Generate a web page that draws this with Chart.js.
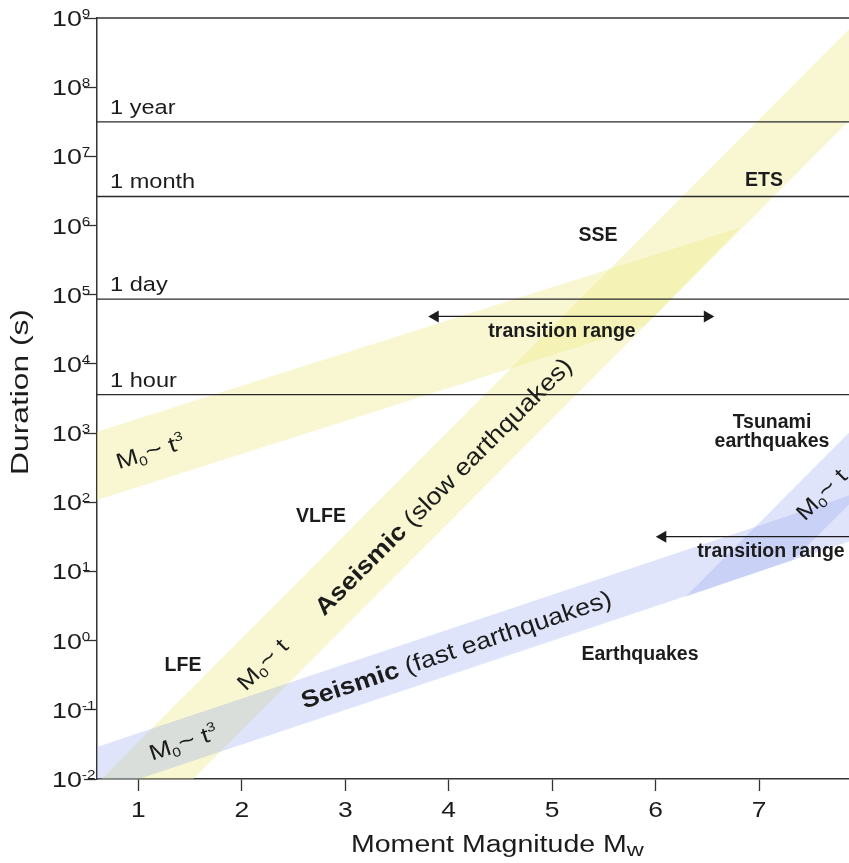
<!DOCTYPE html>
<html>
<head>
<meta charset="utf-8">
<script src="https://cdn.jsdelivr.net/npm/chart.js@4.4.1/dist/chart.umd.min.js"></script>
<style>
  html, body { margin:0; padding:0; background:#fff; }
  #wrap { width:849px; height:863px; }
</style>
</head>
<body>
<div id="wrap"><canvas id="scaling" width="849" height="863"></canvas></div>
<script>
// ── Duration vs moment magnitude (slow / fast earthquake scaling) ──
const FONT = '"Liberation Sans", Arial, Helvetica, sans-serif';
const INK = '#1c1c1c';

// axis ticks
const magTicks = [1, 2, 3, 4, 5, 6, 7];
const durExponents = [-2, -1, 0, 1, 2, 3, 4, 5, 6, 7, 8, 9];

// reference durations (s)
const refLabels = ['1 year', '1 month', '1 day', '1 hour'];
const refSeconds = [31557600, 2629800, 86400, 3600];

// bands as polygon corners: moment magnitude / duration (s)
const slowLinearMw  = [0.5, 8.0, 8.0, 1.2];
const slowLinearDur = [0.0061, 1.08e9, 5.1e7, 0.0032];
const slowCubicMw   = [0.5, 6.82, 5.90, 0.5];
const slowCubicDur  = [935, 9.4e5, 3.6e4, 97];
const fastCubicMw   = [0.5, 8.0, 8.0, 0.5];
const fastCubicDur  = [0.0258, 145, 31.5, 0.0056];
const fastLinearMw  = [6.29, 8.0, 8.0, 7.33];
const fastLinearDur = [4.3, 1585, 145, 14.8];

// "transition range" arrows
const slowArrowMw  = [3.87, 6.50];
const slowArrowDur = [48500, 48500];
const fastArrowMw  = [6.07, 8.0];
const fastArrowDur = [31.8, 31.8];

const YELLOW = 'rgba(238,236,140,0.40)';
const BLUE = 'rgba(150,165,240,0.30)';

const pts = (xs, ys) => xs.map((x, i) => ({ x: x, y: ys[i] }));

function band(xs, ys, color) {
  return { data: pts(xs, ys), showLine: true, fill: 'shape', backgroundColor: color,
           borderColor: 'transparent', borderWidth: 0, pointRadius: 0 };
}

function arrow(xs, ys, radii, rots) {
  return { data: pts(xs, ys), showLine: true, fill: false, borderColor: INK, borderWidth: 1.3,
           pointStyle: 'triangle', pointRadius: radii, pointRotation: rots,
           pointBackgroundColor: INK, pointBorderWidth: 0, pointBorderColor: INK };
}

const refLines = refSeconds.map(s => ({
  data: [{ x: 0.6, y: s }, { x: 7.87, y: s }], showLine: true, fill: false,
  borderColor: '#2a2a2a', borderWidth: 1.3, pointRadius: 0
}));

// draw a run of text pieces (for sub/superscripts), optionally rotated + stretched
function drawRuns(ctx, x, y, angle, sx, parts, align) {
  ctx.save();
  ctx.translate(x, y);
  ctx.rotate(angle * Math.PI / 180);
  ctx.scale(sx, 1);
  ctx.textBaseline = 'alphabetic';
  ctx.textAlign = 'left';
  let total = 0;
  parts.forEach(p => { ctx.font = p.font; p.w = ctx.measureText(p.t).width; total += p.w; });
  let cx = align === 'center' ? -total / 2 : 0;
  parts.forEach(p => { ctx.font = p.font; ctx.fillText(p.t, cx, p.dy || 0); cx += p.w; });
  ctx.restore();
}

const reg = s => s + 'px ' + FONT;
const bold = s => 'bold ' + s + 'px ' + FONT;

function mLabel(ctx, x, y, angle, power) {
  const parts = [
    { t: 'M', font: reg(22), dy: 8 },
    { t: '0', font: reg(13), dy: 12 },
    { t: '~', font: reg(24), dy: 8 },
    { t: ' t', font: reg(22), dy: 8 }
  ];
  if (power) parts.push({ t: power, font: reg(13), dy: -1 });
  drawRuns(ctx, x, y, angle, 1.2, parts, 'center');
}

const textPlugin = {
  id: 'annotText',
  afterDatasetsDraw(chart) {
    const { ctx, chartArea: a } = chart;
    ctx.save();
    ctx.strokeStyle = '#333';
    ctx.lineWidth = 1.5;
    ctx.beginPath();
    ctx.moveTo(a.left, a.top);
    ctx.lineTo(a.right, a.top);
    ctx.stroke();
    ctx.restore();
  },
  afterDraw(chart) {
    const { ctx, scales: { x, y } } = chart;
    ctx.save();
    ctx.fillStyle = INK;

    // y tick labels 10^k
    durExponents.forEach(k => {
      const py = y.getPixelForValue(Math.pow(10, k));
      drawRuns(ctx, 52, py + 8, 0, 1.22, [
        { t: '10', font: reg(22) },
        { t: String(k), font: reg(12.5), dy: -8 }
      ], 'left');
    });

    // x tick labels
    magTicks.forEach(m => {
      drawRuns(ctx, x.getPixelForValue(m), 817, 0, 1.2, [{ t: String(m), font: reg(22) }], 'center');
    });

    // axis titles
    drawRuns(ctx, 351, 852, 0, 1.24, [
      { t: 'Moment Magnitude M', font: reg(23) },
      { t: 'w', font: reg(19), dy: 4 }
    ], 'left');
    drawRuns(ctx, 28, 392, -90, 1.38, [{ t: 'Duration (s)', font: reg(23) }], 'center');

    // reference duration labels
    refLabels.forEach((lab, i) => {
      const py = y.getPixelForValue(refSeconds[i]);
      drawRuns(ctx, 110, py - 8, 0, 1.15, [{ t: lab, font: reg(20.5) }], 'left');
    });

    // bold region labels
    const b = (t, px, py) => drawRuns(ctx, px, py, 0, 1, [{ t: t, font: bold(19.5) }], 'center');
    b('ETS', 764, 186);
    b('SSE', 598, 241);
    b('transition range', 562, 337);
    b('Tsunami', 772, 428);
    b('earthquakes', 772, 447);
    b('transition range', 771, 557);
    b('VLFE', 321, 522);
    b('LFE', 183, 671);
    b('Earthquakes', 640, 660);

    // band labels
    drawRuns(ctx, 443, 486, -45, 1.12, [
      { t: 'Aseismic', font: bold(24), dy: 8.5 },
      { t: ' (slow earthquakes)', font: reg(24), dy: 8.5 }
    ], 'center');
    drawRuns(ctx, 456, 649, -18.5, 1.12, [
      { t: 'Seismic', font: bold(24), dy: 8.5 },
      { t: ' (fast earthquakes)', font: reg(24), dy: 8.5 }
    ], 'center');
    mLabel(ctx, 150, 451, -17.6, '3');
    mLabel(ctx, 183, 742, -18.5, '3');
    mLabel(ctx, 262, 664, -45, '');
    mLabel(ctx, 821, 494, -45, '');
    ctx.restore();
  }
};

new Chart(document.getElementById('scaling'), {
  type: 'scatter',
  data: {
    datasets: [
      ...refLines,
      arrow(slowArrowMw, slowArrowDur, [7, 7], [-90, 90]),
      arrow(fastArrowMw, fastArrowDur, [7, 0], [-90, 90]),
      band(fastLinearMw, fastLinearDur, BLUE),
      band(fastCubicMw, fastCubicDur, BLUE),
      band(slowCubicMw, slowCubicDur, YELLOW),
      band(slowLinearMw, slowLinearDur, YELLOW)
    ]
  },
  options: {
    responsive: false,
    animation: false,
    events: [],
    layout: { autoPadding: false, padding: { top: 18, right: 0, bottom: 0, left: 0 } },
    plugins: { legend: { display: false }, tooltip: { enabled: false } },
    scales: {
      x: {
        type: 'linear', min: 0.6, max: 7.87,
        afterFit: s => { s.height = 84; s.paddingLeft = 0; s.paddingRight = 0; },
        afterBuildTicks: s => { s.ticks = magTicks.map(v => ({ value: v })); },
        ticks: { display: false },
        grid: { drawOnChartArea: false, drawTicks: true, tickLength: 12, tickColor: '#333', tickWidth: 1.3 },
        border: { display: true, color: '#333', width: 1.5 }
      },
      y: {
        type: 'logarithmic', min: 1e-2, max: 1e9,
        afterFit: s => { s.width = 97; s.paddingTop = 0; s.paddingBottom = 0; },
        afterBuildTicks: s => { s.ticks = durExponents.map(k => ({ value: Math.pow(10, k) })); },
        ticks: { display: false },
        grid: { drawOnChartArea: false, drawTicks: true, tickLength: 13, tickColor: '#333', tickWidth: 1.3 },
        border: { display: true, color: '#333', width: 1.5 }
      }
    }
  },
  plugins: [textPlugin]
});
</script>
</body>
</html>
